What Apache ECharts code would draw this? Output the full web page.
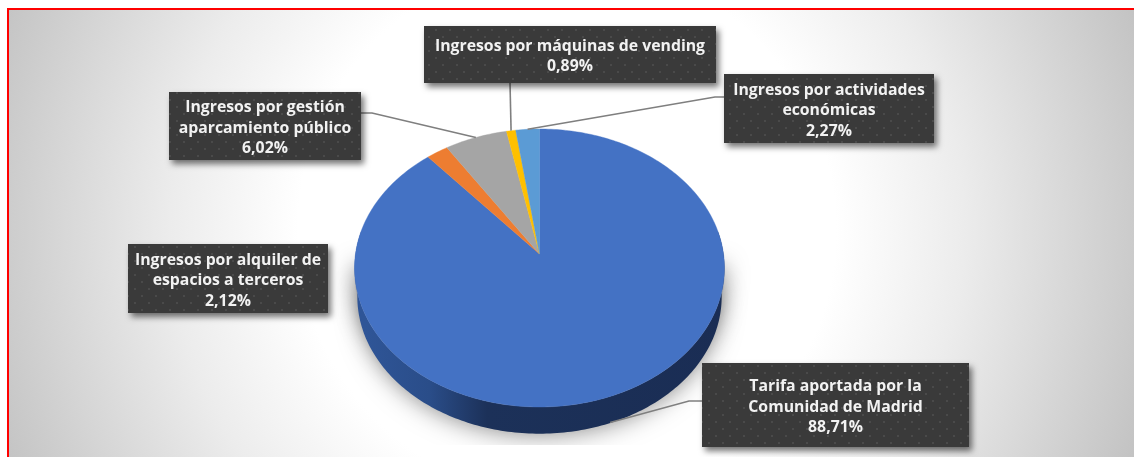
<!DOCTYPE html>
<html><head><meta charset="utf-8">
<style>html,body{margin:0;padding:0;background:#fff}#c{width:1134px;height:457px}</style>
<script src="https://cdn.jsdelivr.net/npm/echarts@6/dist/echarts.min.js"></script>
</head><body><div id="c"></div>
<script>
const categories = ['Tarifa aportada por la\nComunidad de Madrid','Ingresos por alquiler de\nespacios a terceros','Ingresos por gestión\naparcamiento público','Ingresos por máquinas de vending','Ingresos por actividades\neconómicas'];
const shareValues = [88.71, 2.12, 6.02, 0.89, 2.27];
const sliceColors = ['#4472c4','#ed7d31','#a5a5a5','#ffc000','#5b9bd5'];
const FONT = 'bold 15.8px "Open Sans", sans-serif';

const chart = echarts.init(document.getElementById('c'), null, {renderer:'canvas'});
// perspective view of the circular pie
const CX=539.5, CY=254, A=184, B=137.6, K=-0.1007;
function project(deg, scale, dy){
  const t=deg*Math.PI/180, x=Math.sin(t), y=-Math.cos(t), d=1+K*y;
  return [CX+scale*A*x/d, CY+scale*B*y/d+dy];
}
const total=shareValues.reduce((a,b)=>a+b,0);
const spans=[]; let acc=0;
shareValues.forEach(v=>{const a=acc/total*360; acc+=v; spans.push([a,acc/total*360]);});
function arc(a,b,scale,dy){const p=[],n=Math.max(2,Math.ceil(Math.abs(b-a)));for(let i=0;i<=n;i++)p.push(project(a+(b-a)*i/n,scale,dy));return p;}

// label boxes: x, y, w, h, and the leader's path out of the box
const layouts=[
 {box:[702,363,267,84],from:[[702,401],[689,401]],depth:1},
 {box:[128,244,200,69],from:null},
 {box:[169,92,192,68],from:[[361,113],[372,113]]},
 {box:[424,26,292,57],from:[[510,83]]},
 {box:[724,74,210,69],from:[[724,97],[715,97]]}
];
const pat=document.createElement('canvas');pat.width=14;pat.height=14;
const g=pat.getContext('2d');g.fillStyle='#3a3a3a';g.fillRect(0,0,14,14);g.fillStyle='#4a4a4a';
[[1,1],[8,8]].forEach(p=>g.fillRect(p[0],p[1],2,2));

const bgFill={type:'radial',x:567,y:230,r:640,global:true,colorStops:[
    {offset:0,color:'#ffffff'},{offset:0.42,color:'#ffffff'},{offset:0.62,color:'#ececec'},{offset:1,color:'#bdbdbd'}]};
const data=shareValues.map((v,i)=>({name:categories[i],value:v}));
const common={type:'custom',coordinateSystem:'none',silent:true,animation:false,data:data,clip:false};

chart.setOption({
 animation:false,
 graphic:[
  {type:'rect',z:-10,shape:{x:8,y:9,width:1140,height:460},style:{stroke:'#ff0000',lineWidth:2,fill:bgFill}}
 ],
 series:[
  Object.assign({},common,{z:1,renderItem(p,api){
    if(p.dataIndex!==0) return {type:'group',children:[]};
    return {type:'group',children:[
     {type:'polygon',shape:{points:arc(92,268,1,6)},
      style:{fill:'#bdbdbd',shadowBlur:22,shadowColor:'rgba(0,0,0,.42)'}},
     {type:'polygon',shape:{points:arc(90,270,0.97,31)},
      style:{fill:'#bdbdbd',shadowBlur:24,shadowColor:'rgba(0,0,0,.42)',shadowOffsetY:2}},
     {type:'rect',shape:{x:320,y:445,width:382,height:20},style:{fill:bgFill}}
    ]};
  }}),
  Object.assign({},common,{z:2,renderItem(p,api){
    if(p.dataIndex!==0) return {type:'group',children:[]};
    const top=arc(80,280,1,0), bot=arc(280,80,0.985,29);
    return {type:'polygon',shape:{points:top.concat(bot)},
      style:{fill:{type:'linear',x:365,y:0,x2:724,y2:0,global:true,colorStops:[
        {offset:0,color:'#2f5597'},{offset:0.18,color:'#2a4d89'},{offset:0.34,color:'#1c3159'},{offset:1,color:'#1a2d54'}]}}};
  }}),
  Object.assign({},common,{z:3,renderItem(p,api){
    const i=p.dataIndex,s=spans[i];
    return {type:'polygon',shape:{points:[[CX,CY]].concat(arc(s[0],s[1],1,0))},
      style:{fill:sliceColors[i],stroke:sliceColors[i],lineWidth:0.4}};
  }}),
  Object.assign({},common,{z:4,renderItem(p,api){
    const i=p.dataIndex,L=layouts[i];
    if(!L.from) return {type:'group',children:[]};
    const end=project((spans[i][0]+spans[i][1])/2,1,L.depth?26:0);
    return {type:'polyline',shape:{points:L.from.concat([end])},style:{stroke:'#7f7f7f',lineWidth:1.6,fill:'none'}};
  }}),
  Object.assign({},common,{z:5,renderItem(p,api){
    const i=p.dataIndex,b=layouts[i].box;
    return {type:'group',children:[
     {type:'rect',shape:{x:b[0],y:b[1],width:b[2],height:b[3]},
      style:{fill:{image:pat,repeat:'repeat'},shadowBlur:6,shadowOffsetX:3,shadowOffsetY:4,shadowColor:'rgba(0,0,0,.55)'}},
     {type:'text',z2:2,style:{x:b[0]+b[2]/2,y:b[1]+b[3]/2+2,align:'center',verticalAlign:'middle',lineHeight:20.5,
       font:FONT,fill:'#f2f2f2',text:categories[i]+'\n'+shareValues[i].toFixed(2).replace('.',',')+'%'}}
    ]};
  }})
 ]
});
</script></body></html>
